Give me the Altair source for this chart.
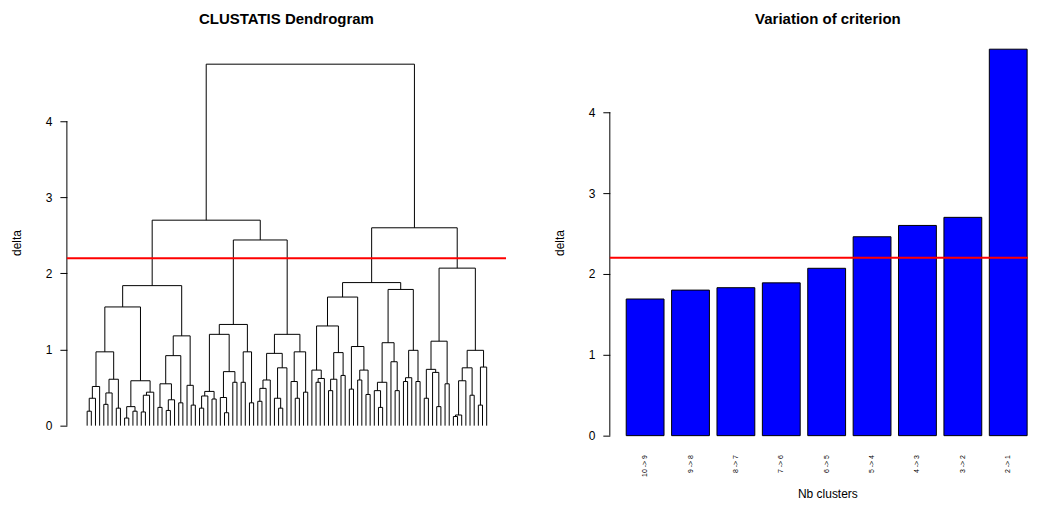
import altair as alt
import pandas as pd

# ---------------- Dendrogram (nested: (height, left, right); 0 = leaf) ----------------
LLL = (1.56,
       (0.97,
        (0.515, (0.36, (0.19, 0, 0), 0), 0),
        (0.61, (0.43, (0.28, 0, 0), 0), (0.23, 0, 0))),
       (0.59,
        (0.25, (0.10, 0, 0), (0.19, 0, 0)),
        (0.44, (0.40, (0.18, 0, 0), 0), 0)))
LLR = (1.18,
       (0.92, (0.55, (0.24, 0, 0), (0.34, (0.20, 0, 0), 0)), (0.30, 0, 0)),
       (0.53, 0, (0.27, 0, 0)))
LRL = (1.33,
       (1.20,
        (0.45, (0.39, (0.23, 0, 0), 0), (0.35, 0, 0)),
        (0.71, (0.37, 0, (0.17, 0, 0)), (0.57, 0, 0))),
       (0.97, (0.57, 0, 0), (0.30, 0, 0)))
LRR = (1.20,
       (0.95, (0.60, (0.49, (0.32, 0, 0), 0), 0), (0.76, (0.36, 0, (0.23, 0, 0)), 0)),
       (0.97, (0.58, 0, (0.36, 0, 0)), (0.44, 0, 0)))
RLL = (1.69,
       (1.31, (0.73, 0, (0.62, (0.57, 0, 0), 0)), (0.96, (0.61, (0.46, 0, 0), 0), (0.66, 0, 0))),
       (1.04, (0.48, 0, 0), (0.73, (0.60, 0, 0), (0.41, 0, 0))))
RLR = (1.79,
       (1.09, (0.57, (0.46, 0, (0.24, 0, 0)), 0), (0.84, 0, (0.46, 0, 0))),
       (0.99, (0.63, (0.58, 0, 0), 0), (0.58, 0, 0)))
RRL = (1.11,
       (0.74, (0.36, 0, 0), (0.70, 0, (0.25, 0, 0))),
       (0.55, 0, 0))
RRR = (0.99,
       (0.76, (0.59, (0.14, (0.12, 0, 0), 0), 0), (0.40, 0, 0)),
       (0.77, (0.27, 0, 0), 0))

LL = (1.84, LLL, LLR)
LR = (2.44, LRL, LRR)
RL = (1.88, RLL, RLR)
RR = (2.07, RRL, RRR)
L = (2.70, LL, LR)
R = (2.60, RL, RR)
ROOT = (4.75, L, R)

cut_height = 2.2
y_ticks = [0, 1, 2, 3, 4]

# ---------------- Variation of criterion ----------------
bar_labels = ["10 -> 9", "9 -> 8", "8 -> 7", "7 -> 6", "6 -> 5",
              "5 -> 4", "4 -> 3", "3 -> 2", "2 -> 1"]
bar_values = [1.69, 1.80, 1.83, 1.89, 2.07, 2.46, 2.60, 2.70, 4.78]

FONT = "Liberation Sans"

# build dendrogram segments from the tree
segs = []
counter = [0]


def layout(node):
    if node == 0:
        x = counter[0]
        counter[0] += 1
        return float(x), 0.0
    h, a, b = node
    xa, ha = layout(a)
    xb, hb = layout(b)
    segs.append(dict(x=xa, x2=xb, y=h, y2=h))
    segs.append(dict(x=xa, x2=xa, y=ha, y2=h))
    segs.append(dict(x=xb, x2=xb, y=hb, y2=h))
    return (xa + xb) / 2.0, h


layout(ROOT)
seg_df = pd.DataFrame(segs)

H = 419
left_x_scale = alt.Scale(domain=[-4.87, 100.65], nice=False, zero=False)
left_y_scale = alt.Scale(domain=[-0.341, 5.154], nice=False, zero=False)

y_axis_common = dict(values=y_ticks, tickSize=7, labelPadding=8, domain=False, grid=False,
                     labelAngle=0, labelFontSize=12, labelFont=FONT, labelColor="black",
                     tickColor="black", titleFont=FONT, titleFontSize=12, titleFontWeight="normal",
                     titleColor="black", titlePadding=22, format="d")

dendro = alt.Chart(seg_df).mark_rule(color="black", strokeWidth=1).encode(
    x=alt.X("x:Q", scale=left_x_scale, axis=None),
    x2="x2:Q",
    y=alt.Y("y:Q", scale=left_y_scale, axis=alt.Axis(title="delta", **y_axis_common)),
    y2="y2:Q",
)

axis_df = pd.DataFrame({"lo": [y_ticks[0]], "hi": [y_ticks[-1]]})
left_axis_line = alt.Chart(axis_df).mark_rule(color="black", strokeWidth=1).encode(
    x=alt.value(0),
    y=alt.Y("lo:Q", scale=left_y_scale),
    y2="hi:Q",
)

cut_df = pd.DataFrame({"cut": [cut_height]})
left_cut = alt.Chart(cut_df).mark_rule(color="#FF0000", strokeWidth=2).encode(
    y=alt.Y("cut:Q", scale=left_y_scale),
)

left = alt.layer(dendro, left_axis_line, left_cut).properties(
    width=440, height=H,
    title=alt.TitleParams("CLUSTATIS Dendrogram", font=FONT, fontSize=15, fontWeight="bold",
                          color="black", offset=6),
)

# right chart
bar_df = pd.DataFrame({"label": bar_labels, "value": bar_values})
right_y_scale = alt.Scale(domain=[-0.1975, 4.975], nice=False, zero=False)

bars = alt.Chart(bar_df).mark_bar(color="#0000FF", stroke="black", strokeWidth=1).encode(
    x=alt.X("label:N", sort=bar_labels,
            scale=alt.Scale(paddingInner=1 / 6, paddingOuter=0.19, align=0.95),
            axis=alt.Axis(title="Nb clusters", labelAngle=270, labelFontSize=7, labelFont=FONT,
                          labelColor="black", labelPadding=3, ticks=False, domain=False,
                          titleFont=FONT, titleFontSize=12, titleFontWeight="normal",
                          titleColor="black", titlePadding=12, titleX=218)),
    y=alt.Y("value:Q", scale=right_y_scale, axis=alt.Axis(title="delta", **y_axis_common)),
    y2=alt.datum(0),
)

right_axis_line = alt.Chart(axis_df).mark_rule(color="black", strokeWidth=1).encode(
    x=alt.value(0),
    y=alt.Y("lo:Q", scale=right_y_scale),
    y2="hi:Q",
)

right_cut = alt.Chart(cut_df).mark_rule(color="#FF0000", strokeWidth=2).encode(
    y=alt.Y("cut:Q", scale=right_y_scale),
)

right = alt.layer(bars, right_axis_line, right_cut).properties(
    width=419, height=H,
    title=alt.TitleParams("Variation of criterion", font=FONT, fontSize=15, fontWeight="bold",
                          color="black", offset=6, dx=9),
)

chart = alt.hconcat(left, right, spacing=46).properties(
    padding={"left": 2, "top": 4, "right": 0, "bottom": 0},
    background="white",
).configure_view(stroke=None)

chart.save("out.html", embed_options={"renderer": "svg", "actions": False})
